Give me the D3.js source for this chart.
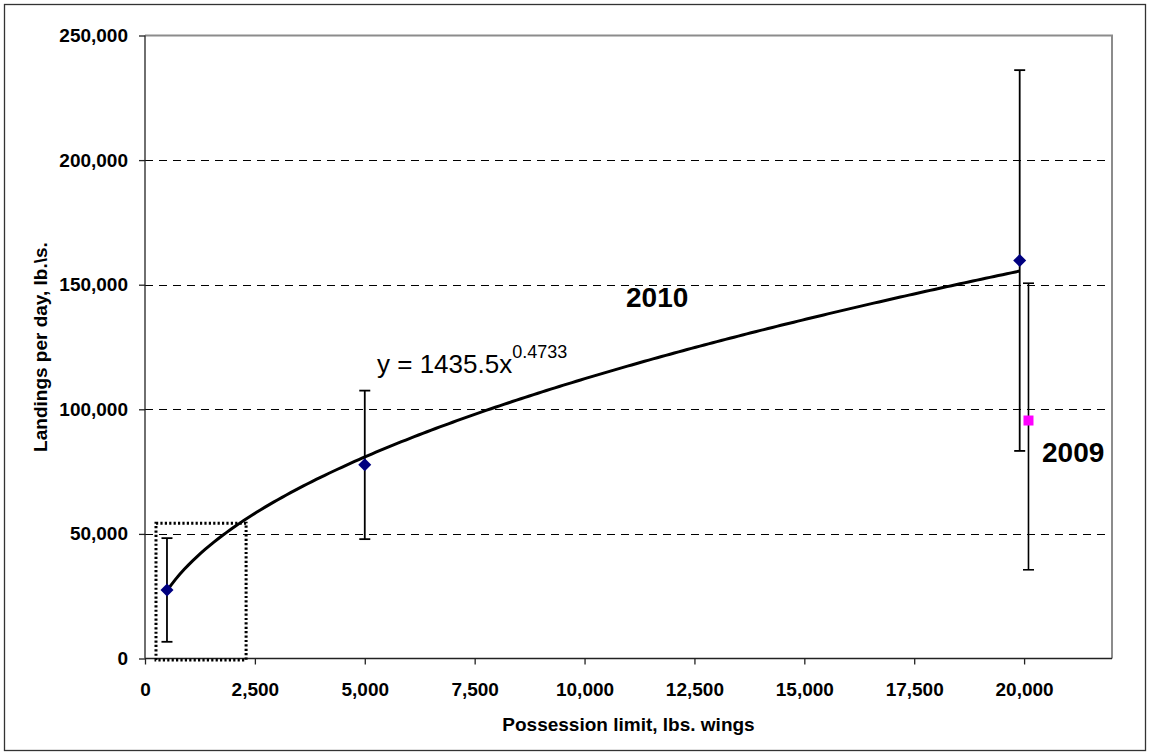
<!DOCTYPE html>
<html>
<head>
<meta charset="utf-8">
<script src="https://cdn.jsdelivr.net/npm/d3@7"></script>
<style>
  html, body { margin: 0; padding: 0; background: #fff; }
  svg { display: block; font-family: "Liberation Sans", Arial, sans-serif; }
</style>
</head>
<body>
<svg id="chart" width="1150" height="755"></svg>
<script>
// Possession limit (lbs. wings) vs. landings per day, with +/- error ranges
const limits2010   = [500, 5000, 19900];
const landings2010 = [27500, 77700, 159700];
const err2010      = [20800, 29800, 76400];

const limits2009      = [20100];
const landings2009    = [95500];
const errPlus2009     = [55100];
const errMinus2009    = [59900];

// Power trendline for the 2010 series: y = a * x^b
const trendA = 1435.5;
const trendB = 0.4733;

// Dotted highlight around the lowest possession limits (data units)
const boxLimits   = [250, 2300];
const boxLandings = [0, 54300];

const xTicks = [0, 2500, 5000, 7500, 10000, 12500, 15000, 17500, 20000];
const yTicks = [0, 50000, 100000, 150000, 200000, 250000];
const gridValues = [50000, 100000, 150000, 200000];

const svg = d3.select("#chart");
const W = 1150, H = 755;
const plot = { left: 145, right: 1112, top: 35.5, bottom: 658.5 };

svg.append("rect").attr("width", W).attr("height", H).attr("fill", "#fff");
// outer frame
svg.append("rect")
  .attr("x", 4.5).attr("y", 4.5).attr("width", W - 9).attr("height", H - 9)
  .attr("fill", "none").attr("stroke", "#333").attr("stroke-width", 1.3);

const x = d3.scaleLinear().domain([0, 22000]).range([plot.left, plot.right]);
const y = d3.scaleLinear().domain([0, 250000]).range([plot.bottom, plot.top]);
const fmt = d3.format(",");

// gridlines
svg.append("g").selectAll("line").data(gridValues).join("line")
  .attr("x1", plot.left).attr("x2", plot.right)
  .attr("y1", d => Math.round(y(d)) + 0.5).attr("y2", d => Math.round(y(d)) + 0.5)
  .attr("stroke", "#000").attr("stroke-width", 1).attr("stroke-dasharray", "8,6");

// plot-area border (top & right)
svg.append("path")
  .attr("d", `M${plot.left},${plot.top}H${plot.right}V${plot.bottom}`)
  .attr("fill", "none").attr("stroke", "#8c8c8c").attr("stroke-width", 2);

// axes
const xAxis = svg.append("g").attr("transform", `translate(0,${plot.bottom})`)
  .call(d3.axisBottom(x).tickValues(xTicks).tickFormat(fmt).tickSizeOuter(0).tickSize(6).tickPadding(18));
const yAxis = svg.append("g").attr("transform", `translate(${plot.left},0)`)
  .call(d3.axisLeft(y).tickValues(yTicks).tickFormat(fmt).tickSizeOuter(0).tickSize(6).tickPadding(11));
[xAxis, yAxis].forEach(g => {
  g.select(".domain").attr("stroke", "#222").attr("stroke-width", 1.3);
  g.selectAll(".tick line").attr("stroke", "#222").attr("stroke-width", 1.3);
  g.selectAll(".tick text").attr("fill", "#000").attr("font-size", 19)
    .attr("font-weight", "bold").attr("font-family", "Liberation Sans, Arial, sans-serif");
});
yAxis.select(".domain").attr("d", `M0,${plot.bottom}V${plot.top}`);
xAxis.select(".domain").attr("d", `M${plot.left},0H${plot.right}`);

// axis titles
svg.append("text")
  .attr("x", (plot.left + plot.right) / 2).attr("y", 731)
  .attr("text-anchor", "middle").attr("font-size", 19).attr("font-weight", "bold")
  .text("Possession limit, lbs. wings");
svg.append("text")
  .attr("transform", `translate(47,${(plot.top + plot.bottom) / 2}) rotate(-90)`)
  .attr("text-anchor", "middle").attr("font-size", 19).attr("font-weight", "bold")
  .text("Landings per day, lb.\\s.");

// dotted highlight box
svg.append("rect")
  .attr("x", x(boxLimits[0])).attr("y", y(boxLandings[1]))
  .attr("width", x(boxLimits[1]) - x(boxLimits[0]))
  .attr("height", y(boxLandings[0]) - y(boxLandings[1]) + 1.5)
  .attr("fill", "none").attr("stroke", "#000").attr("stroke-width", 3)
  .attr("stroke-dasharray", "2.2,2.2");

// error bars
function errorBars(xs, ys, plus, minus, width) {
  const g = svg.append("g").attr("stroke", "#000").attr("stroke-width", width);
  xs.forEach((xv, i) => {
    const cx = x(xv), top = y(ys[i] + plus[i]), bot = y(ys[i] - minus[i]);
    g.append("line").attr("x1", cx).attr("x2", cx).attr("y1", top).attr("y2", bot);
    g.append("line").attr("x1", cx - 5.5).attr("x2", cx + 5.5).attr("y1", top).attr("y2", top);
    g.append("line").attr("x1", cx - 5.5).attr("x2", cx + 5.5).attr("y1", bot).attr("y2", bot);
  });
}
errorBars(limits2010, landings2010, err2010, err2010, 1.8);
errorBars(limits2009, landings2009, errPlus2009, errMinus2009, 1.6);

// trendline over the 2010 limit range
const xMin = d3.min(limits2010), xMax = d3.max(limits2010);
const trendPts = d3.range(0, 201).map(i => {
  const xv = xMin + (xMax - xMin) * i / 200;
  return [xv, trendA * Math.pow(xv, trendB)];
});
svg.append("path").datum(trendPts)
  .attr("d", d3.line().x(d => x(d[0])).y(d => y(d[1])))
  .attr("fill", "none").attr("stroke", "#000").attr("stroke-width", 3);

// 2010 markers (navy diamonds)
svg.append("g").selectAll("path").data(limits2010).join("path")
  .attr("transform", (d, i) => `translate(${x(d)},${y(landings2010[i])})`)
  .attr("d", "M0,-6.5L6.5,0L0,6.5L-6.5,0Z")
  .attr("fill", "#000080");

// 2009 marker (magenta square)
svg.append("g").selectAll("rect").data(limits2009).join("rect")
  .attr("x", d => x(d) - 5).attr("y", (d, i) => y(landings2009[i]) - 5)
  .attr("width", 10).attr("height", 10).attr("fill", "#ff00ff");

// labels
svg.append("text").attr("x", 626).attr("y", 307)
  .attr("font-size", 28).attr("font-weight", "bold").text("2010");
svg.append("text").attr("x", 1042).attr("y", 462)
  .attr("font-size", 28).attr("font-weight", "bold").text("2009");

const eq = svg.append("text").attr("x", 377).attr("y", 373).attr("font-size", 26);
eq.append("tspan").text("y = 1435.5x");
eq.append("tspan").attr("font-size", 18).attr("dy", -15).text("0.4733");
</script>
</body>
</html>
